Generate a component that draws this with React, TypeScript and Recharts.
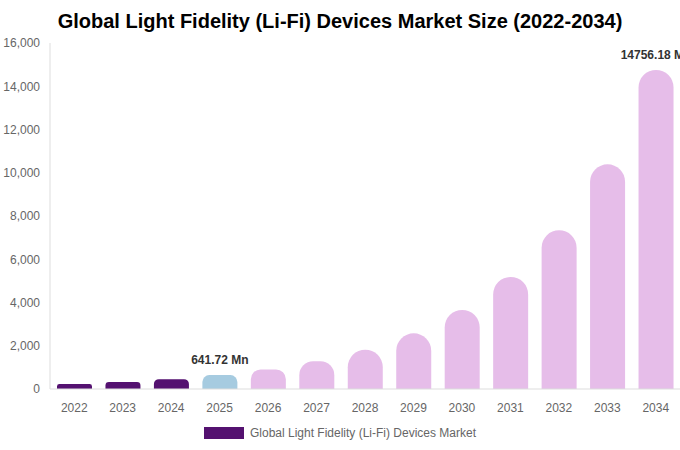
import React from "react";
import { BarChart, Bar, XAxis, YAxis, Cell, LabelList, Legend } from "recharts";

const years = ["2022","2023","2024","2025","2026","2027","2028","2029","2030","2031","2032","2033","2034"];
const marketValues = [228, 322, 455, 641.72, 906, 1280, 1818, 2575, 3655, 5180, 7340, 10390, 14756.18];
const barColors = ["#541170","#541170","#541170","#a6cbe0","#e6bde9","#e6bde9","#e6bde9","#e6bde9","#e6bde9","#e6bde9","#e6bde9","#e6bde9","#e6bde9"];
const labelledYears = ["2025", "2034"];
const yTicks = [0, 2000, 4000, 6000, 8000, 10000, 12000, 14000, 16000];
const seriesName = "Global Light Fidelity (Li-Fi) Devices Market";
const title = "Global Light Fidelity (Li-Fi) Devices Market Size (2022-2034)";

const data = years.map((y, i) => ({ year: y, value: marketValues[i] }));

const FONT = "'Liberation Sans', Arial, sans-serif";

const renderLabel = (props: any) => {
  const { x, y, width, value, index } = props;
  if (!labelledYears.includes(years[index])) return null;
  return (
    <text x={x + width / 2} y={y - 11} textAnchor="middle" fontFamily={FONT} fontSize={12} fontWeight="bold" fill="#333">
      {`${Number(value).toFixed(2)} Mn`}
    </text>
  );
};

const renderLegend = () => (
  <div style={{ display: "flex", justifyContent: "center", alignItems: "center", fontFamily: FONT, fontSize: 12, color: "#666" }}>
    <span style={{ display: "inline-block", width: 40, height: 12, background: "#541170", marginRight: 6 }} />
    <span>{seriesName}</span>
  </div>
);

export default function App() {
  return (
    <div style={{ position: "absolute", left: 0, top: 0, width: 680, height: 450, background: "#fff" }}>
      <div style={{ position: "absolute", left: 0, top: 10, width: 680, textAlign: "center", fontFamily: FONT, fontWeight: "bold", fontSize: 20, color: "#000" }}>
        {title}
      </div>
      <BarChart width={680} height={450} data={data} margin={{ top: 43, right: 0, left: 0, bottom: 10 }}>
        <XAxis dataKey="year" tickLine={false} axisLine={{ stroke: "#ddd" }} tick={{ fill: "#666", fontSize: 12, fontFamily: FONT }} tickMargin={8} height={37} interval={0} />
        <YAxis domain={[0, 16000]} ticks={yTicks} tickLine={false} axisLine={{ stroke: "#ddd" }} width={50} tickMargin={4}
          tick={{ fill: "#666", fontSize: 12, fontFamily: FONT }} tickFormatter={(v: number) => v.toLocaleString("en-US")} />
        <Legend verticalAlign="bottom" content={renderLegend} />
        <Bar dataKey="value" name={seriesName} barSize={35} radius={[17.5, 17.5, 0, 0]} isAnimationActive={false}>
          {data.map((d, i) => (
            <Cell key={d.year} fill={barColors[i]} />
          ))}
          <LabelList dataKey="value" content={renderLabel} />
        </Bar>
      </BarChart>
    </div>
  );
}
